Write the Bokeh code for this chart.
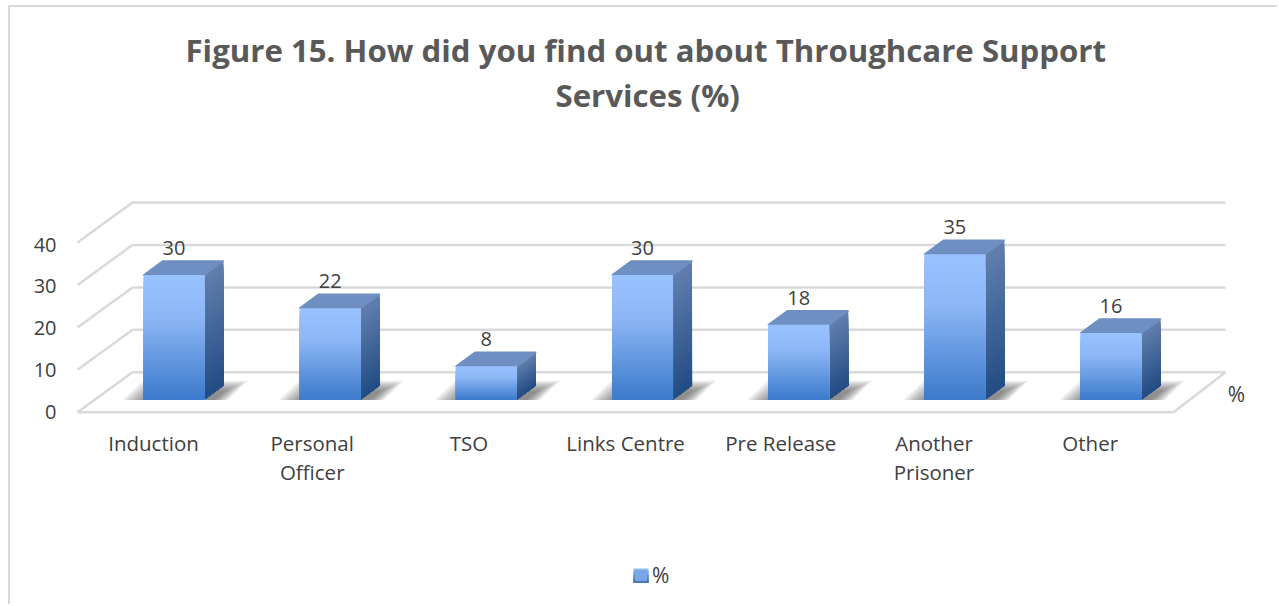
from bokeh.plotting import figure
from bokeh.models import Range1d, LinearAxis, FixedTicker, Title, Legend, LegendItem
from bokeh.core.properties import value as V
from bokeh.embed import file_html
from bokeh.resources import INLINE

# ---- data
categories = ["Induction", "Personal\nOfficer", "TSO", "Links Centre", "Pre Release", "Another\nPrisoner", "Other"]
values = [30, 22, 8, 30, 18, 35, 16]
y_ticks = [0, 10, 20, 30, 40]
title_lines = ["Figure 15. How did you find out about Throughcare Support", "Services (%)"]
series = "%"

# ---- layout (page pixels)
OX, OY = 10, 7                           # figure origin on the page
FT, FB, FL, FR = 115, 605, 66, 1278      # plot frame
AXIS_Y = 418                             # category axis position
P0, PX, BW = 173.5, 156.17, 61           # first bar centre, bar pitch, bar width
Y0, PY = 399, 4.15                       # bar base, px per unit
W0, WY = 371.7, 4.24                     # back wall zero, px per unit
L0, LX = 153, 156.2                      # category label centre, pitch
LABEL_NUDGE = [0, 2.5, 3, 3.5, 2.5, -0.5, -0.5]  # px, label centres are not quite even
T0, TY = 411, 4.17                       # y tick label zero, px per unit
DEPTH_X, DEPTH_Y = 19, 14                # bar depth
FLOOR_X, FLOOR_Y = 55, 40                # chart depth
WALL_L, WALL_R = 132, 1225
FONT = V("Open Sans")

def x_of(px): return (px - P0) / PX
def y_of(py): return (Y0 - py) / PY
dx = lambda px: px / PX
dy = lambda px: px / PY

p = figure(width=1279 - OX, height=606 - OY, output_backend="svg", toolbar_location=None,
           x_range=Range1d(x_of(FL), x_of(FR)), y_range=Range1d(y_of(FB), y_of(FT)),
           x_axis_type=None, y_axis_type=None,
           min_border_left=FL - OX, min_border_right=1, min_border_top=FT - OY, min_border_bottom=606 - FB,
           background_fill_color="white", border_fill_color="white", outline_line_color=None)
p.styles = {"margin-top": "5px", "margin-left": "8px", "border-left": "2px solid #d9d9d9",
            "border-top": "2px solid #d9d9d9"}

p.extra_y_ranges = {
    "wall": Range1d((W0 - FB) / WY, (W0 - FT) / WY),
    "ticks": Range1d((T0 - FB) / TY, (T0 - FT) / TY),
}
p.extra_x_ranges = {"labels": Range1d((FL - L0) / LX, (FR - L0) / LX)}

# axes
yaxis = LinearAxis(y_range_name="ticks", ticker=FixedTicker(ticks=y_ticks), axis_line_color=None,
                   major_tick_line_color=None, minor_tick_line_color=None, major_label_standoff=4,
                   major_label_text_font="Open Sans", major_label_text_font_size="20px",
                   major_label_text_color="#404040")
p.add_layout(yaxis, "left")
label_ticks = [i + n / LX for i, n in enumerate(LABEL_NUDGE)]
xaxis = LinearAxis(x_range_name="labels", ticker=FixedTicker(ticks=label_ticks),
                   major_label_overrides=dict(zip(label_ticks, categories)),
                   fixed_location=y_of(AXIS_Y),
                   axis_line_color=None, major_tick_line_color=None, minor_tick_line_color=None,
                   major_label_standoff=4, major_label_text_font="Open Sans",
                   major_label_text_font_size="20.5px", major_label_text_color="#404040",
                   major_label_text_line_height=1.04)
p.add_layout(xaxis, "below")

# title: two centred lines
for line, left, gap in zip(reversed(title_lines), (555, 185), (0, 2)):
    p.add_layout(Title(text=line, align="left", offset=left - FL, text_font="Open Sans",
                       text_font_style="bold", text_font_size="31.2px", text_color="#595959",
                       standoff=gap), "above")

# walls & floor
GRID = dict(line_color="#d9d9d9", line_width=2.5)
for v in y_ticks:
    p.segment(x_of(WALL_L), v, x_of(WALL_R), v, y_range_name="wall", **GRID)
    p.segment(x_of(WALL_L), v, x_of(WALL_L) - dx(FLOOR_X), v - FLOOR_Y / WY, y_range_name="wall", **GRID)
p.segment(x_of(WALL_L) - dx(FLOOR_X), -FLOOR_Y / WY, x_of(WALL_R) - dx(FLOOR_X) + dx(3), -FLOOR_Y / WY,
          y_range_name="wall", **GRID)
p.segment(x_of(WALL_R), 0, x_of(WALL_R) - dx(FLOOR_X) + dx(3), -FLOOR_Y / WY, y_range_name="wall", **GRID)

def mix(a, b, f):
    return "#%02x%02x%02x" % tuple(round(a[k] + (b[k] - a[k]) * f) for k in range(3))

FRONT = [(0.0, (0x99, 0xc2, 0xff)), (0.35, (0x8c, 0xb6, 0xf5)), (1.0, (0x3c, 0x7a, 0xcb))]
SIDE = [(0.0, (0x62, 0x7f, 0xae)), (1.0, (0x22, 0x4c, 0x84))]
def grad(stops, f):
    for (f0, c0), (f1, c1) in zip(stops, stops[1:]):
        if f <= f1:
            return mix(c0, c1, (f - f0) / (f1 - f0))
    return mix(stops[-1][1], stops[-1][1], 0)

N = 36
# floor shadows: stacked translucent layers give a soft edge
for i, v in enumerate(values):
    for k in range(14):
        s = k * 1.8
        xs = [i - dx(52 - s), i - dx(31 - s * 0.6), i + dx(74 - s), i + dx(54 - s * 0.6)]
        ys = [dy(-0.5), dy(19 - s * 0.45), dy(19 - s * 0.45), dy(-0.5)]
        p.patch(xs, ys, fill_color="#404040", fill_alpha=0.06, line_color=None)

# bar faces (each band runs to the bar's foot, the next one paints over it)
ql, qr, qt, qb, qc = [], [], [], [], []
sx, sy, sc = [], [], []
tx, ty = [], []
for i, v in enumerate(values):
    xl, xr = i - dx(BW / 2), i + dx(BW / 2)
    for k in range(N):
        f0, f1 = k / N, (k + 1) / N
        a = v * (1 - f0)
        ql.append(xl); qr.append(xr); qt.append(a); qb.append(0)
        qc.append(grad(FRONT, (f0 + f1) / 2))
        sx.append([xr, xr + dx(DEPTH_X), xr + dx(DEPTH_X), xr])
        sy.append([a, a + dy(DEPTH_Y), dy(DEPTH_Y), 0])
        sc.append(grad(SIDE, (f0 + f1) / 2))
    tx.append([xl, xl + dx(DEPTH_X), xr + dx(DEPTH_X), xr])
    ty.append([v, v + dy(DEPTH_Y), v + dy(DEPTH_Y), v])

p.patches(sx, sy, fill_color=sc, line_color=None)
p.patches(tx, ty, fill_color="#6f8fc2", line_color="#6f8fc2", line_width=1.5, line_join="round")
front = p.quad(left=ql, right=qr, top=qt, bottom=qb, fill_color=qc, line_color=None)

# data labels
p.text(list(range(len(values))), values, text=[str(v) for v in values], text_align="center",
       text_baseline="middle", y_offset=-27, text_font=FONT, text_font_size="20px", text_color="#404040")

# series axis name
p.text([x_of(1236)], [y_of(393)], text=[series], text_align="center", text_baseline="middle",
       text_font=FONT, text_font_size="21px", text_color="#404040")

# legend
lg = Legend(items=[LegendItem(label=series, renderers=[front], index=N // 2)], location=(633 - FL, 606 - 590),
            background_fill_alpha=0, border_line_color=None, glyph_width=15, glyph_height=14,
            label_text_font="Open Sans", label_text_font_size="21px", label_text_color="#404040",
            label_standoff=4, margin=0, padding=0)
p.add_layout(lg, "center")

# legend swatch shading
SW = 7
for k in range(SW):
    p.quad(left=[x_of(633)], right=[x_of(648)], top=[y_of(568 + k * 2)], bottom=[y_of(582)],
           fill_color=grad([(0.0, (0x8f, 0xbd, 0xf7)), (1.0, (0x3f, 0x70, 0xb0))], k / (SW - 1)),
           line_color=None, level="overlay")

open("out.html", "w").write(file_html(p, INLINE))
